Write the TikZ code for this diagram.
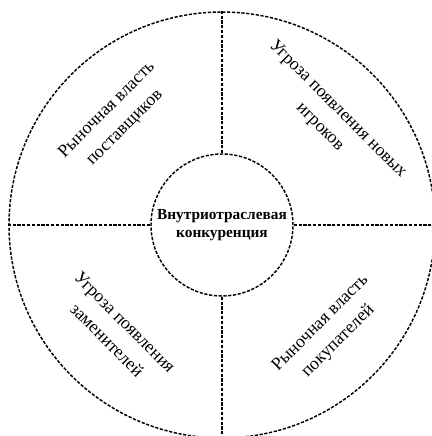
\documentclass[tikz,border=0pt]{standalone}
\usepackage{fontspec}
\setmainfont{Liberation Serif}
\usetikzlibrary{positioning}
\tikzset{
    % Ring styles - dashed outlines
    dotline/.style={
        draw=black,
        line width=1.1pt,
        dash pattern=on 2.4pt off 1.2pt
    },
    ring/.style={
        circle,
        dotline,
        minimum size=319.5pt,
        inner sep=0pt
    },
    core/.style={
        circle,
        dotline,
        minimum size=106.5pt,
        inner sep=0pt,
        align=center,
        font=\fontsize{11.5}{13.5}\selectfont\bfseries
    },
    % Sector labels
    force/.style={
        align=center,
        inner sep=0pt,
        font=\fontsize{13.4}{19}\selectfont
    }
}

\begin{document}
\begin{tikzpicture}[x=0.75pt, y=0.75pt]
    \useasboundingbox (-222,-211) rectangle (210,225);
    \clip (-222,-211) rectangle (210,225);

    \node[ring] (outer) at (0,0) {};
    \node[core] (inner) at (0,0) {Внутриотраслевая\\конкуренция};

    \draw[dotline] (inner.north) -- (outer.north);
    \draw[dotline] (inner.west) -- (outer.west);
    \draw[dotline] (inner.east) -- (outer.east);
    \draw[dotline] (inner.south) -- (outer.south);

    \node[force, rotate=45] (supp) at (135:150) {Рыночная власть\\поставщиков};
    \node[force, rotate=-45] (entr) at (45:151) {Угроза появления новых\\игроков};
    \node[force, rotate=-45] (subs) at (-135:150) {Угроза появления\\заменителей};
    \node[force, rotate=45] (buyr) at (-45:152) {Рыночная власть\\покупателей};
\end{tikzpicture}
\end{document}
